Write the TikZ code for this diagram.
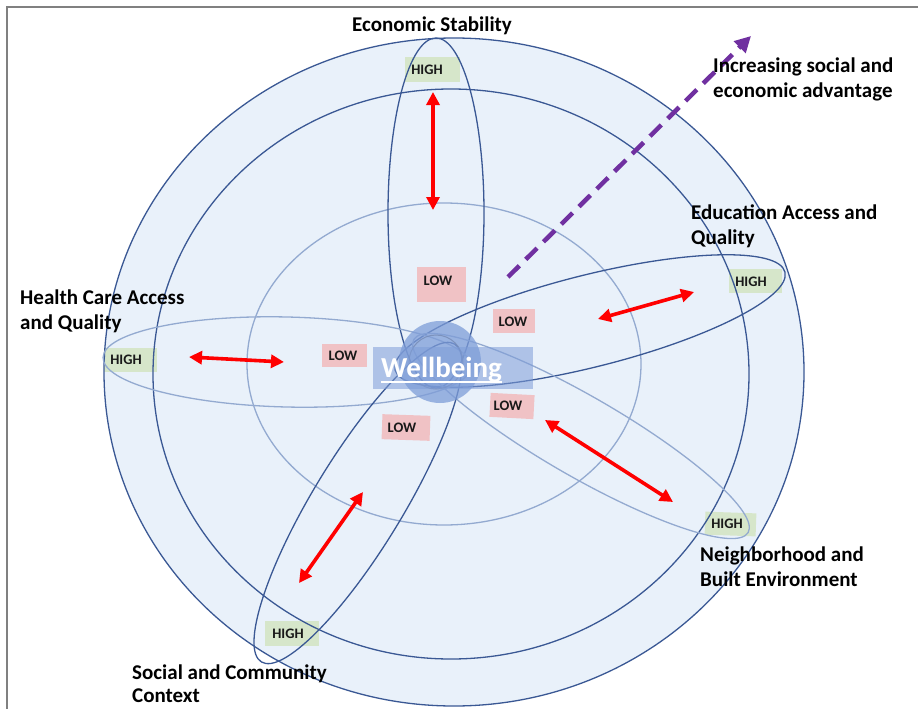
\documentclass[tikz,border=0pt]{standalone}
\usepackage{fontspec}
\setmainfont{Carlito}
\usetikzlibrary{arrows.meta}
\definecolor{bgblue}{HTML}{E9F1FA}
\definecolor{darkline}{HTML}{3A5894}
\definecolor{lightline}{HTML}{93AAD0}
\definecolor{highgreen}{HTML}{D5E5C5}
\definecolor{lowpink}{HTML}{F0C2C5}
\definecolor{advpurple}{HTML}{7030A0}
\definecolor{hubblue}{HTML}{7E9DD8}
\definecolor{framegray}{HTML}{808080}
\begin{document}
\begin{tikzpicture}[x=1pt,y=-1pt,
  ring/.style={draw=darkline, line width=1.3pt},
  lightring/.style={draw=lightline, line width=1.3pt},
  highbox/.style={fill=highgreen, fill opacity=0.9, draw=none, inner sep=0pt},
  lowbox/.style={fill=lowpink, draw=none, inner sep=0pt},
  tag/.style={font=\bfseries\fontsize{14.5}{15}\selectfont, text=black!90, inner sep=0pt},
  lbl/.style={font=\bfseries\fontsize{21}{25}\selectfont, text=black, inner sep=0pt, anchor=base west},
  gradient/.style={draw=red, line width=3.6pt,
    {Triangle[length=13pt,width=13pt]}-{Triangle[length=13pt,width=13pt]}},
  advantage/.style={draw=advpurple, line width=4.5pt, dash pattern=on 16pt off 9pt,
    -{Triangle[length=16pt,width=16pt]}}
]
\useasboundingbox (0,0) rectangle (918,709);

% page frame
\draw[framegray, line width=2pt] (7,709) -- (7,7) -- (918,7);

% outer disc
\fill[bgblue] (454,372) ellipse [x radius=350pt, y radius=334pt];

% HIGH tags (backgrounds)
\node[highbox, minimum width=55pt, minimum height=25pt] (hEcon) at (432.5,69.5) {};
\node[highbox, minimum width=53pt, minimum height=24pt] (hEdu) at (755.5,281) {};
\node[highbox, minimum width=53pt, minimum height=24pt] (hHealth) at (130.5,360) {};
\node[highbox, minimum width=51pt, minimum height=23pt, rotate=-2] (hNeigh) at (730.5,524) {};
\node[highbox, minimum width=54pt, minimum height=25pt] (hSocial) at (292,633.5) {};

% LOW tags (backgrounds)
\node[lowbox, minimum width=49pt, minimum height=35pt] (lEcon) at (441.5,284.5) {};
\node[lowbox, minimum width=42pt, minimum height=24pt] (lEdu) at (514,321) {};
\node[lowbox, minimum width=45pt, minimum height=23pt] (lHealth) at (344.5,355.5) {};
\node[lowbox, minimum width=44pt, minimum height=24pt, rotate=-3] (lNeigh) at (512,406) {};
\node[lowbox, minimum width=48pt, minimum height=25pt, rotate=-2] (lSocial) at (406,427.5) {};

% concentric rings
\draw[ring] (454,372) ellipse [x radius=350pt, y radius=334pt];
\draw[ring] (451,374) ellipse [x radius=298pt, y radius=285pt];
\draw[lightring] (444,364) ellipse [x radius=197pt, y radius=161pt];

% petals
\draw[ring] (436,213) ellipse [x radius=48pt, y radius=175pt];
\draw[ring, rotate around={14.1:(590,321)}] (590,321) ellipse [x radius=201pt, y radius=46pt];
\draw[lightring, rotate around={-1.4:(287,362)}] (287,362) ellipse [x radius=184pt, y radius=45pt];
\draw[lightring, rotate around={-30:(581,436)}] (581,436) ellipse [x radius=193pt, y radius=40pt];
\draw[ring, rotate around={58.7:(358,503)}] (358,503) ellipse [x radius=186pt, y radius=45pt];

% hub
\fill[hubblue, opacity=0.75] (440,362) circle [radius=41pt];
\draw[darkline!70, line width=1pt, opacity=0.8] (436,362) circle [radius=27pt];
\node[fill=hubblue, fill opacity=0.55, minimum width=160pt, minimum height=42pt, inner sep=0pt] (hubBar) at (453,368) {};
\node[font=\bfseries\fontsize{29}{30}\selectfont, text=white, inner sep=0pt, anchor=base] (wb) at (441.5,377) {Wellbeing};
\draw[white, line width=1.8pt] ([yshift=-5pt]wb.base west) -- ([yshift=-5pt]wb.base east);

% tag texts
\node[tag] (hEconT) at (427,69.5) {HIGH};
\node[tag] (hEduT) at (751,282) {HIGH};
\node[tag] (hHealthT) at (126,360) {HIGH};
\node[tag] (hNeighT) at (727,523.5) {HIGH};
\node[tag] (hSocialT) at (288,633.5) {HIGH};
\node[tag] (lEconT) at (438,281) {LOW};
\node[tag] (lEduT) at (513,322) {LOW};
\node[tag] (lHealthT) at (343,356) {LOW};
\node[tag] (lNeighT) at (508,406) {LOW};
\node[tag] (lSocialT) at (402,428) {LOW};

% gradient arrows (low <-> high)
\coordinate (gEconA) at (433,92);   \coordinate (gEconB) at (433,210);
\coordinate (gEduA) at (598,319);   \coordinate (gEduB) at (694,292);
\coordinate (gHealthA) at (189,357);\coordinate (gHealthB) at (284,362);
\coordinate (gNeighA) at (545,420); \coordinate (gNeighB) at (673,502);
\coordinate (gSocialA) at (363,492);\coordinate (gSocialB) at (299,583);
\draw[gradient] (gEconA) -- (gEconB);
\draw[gradient] (gEduA) -- (gEduB);
\draw[gradient] (gHealthA) -- (gHealthB);
\draw[gradient] (gNeighA) -- (gNeighB);
\draw[gradient] (gSocialA) -- (gSocialB);

% advantage direction
\coordinate (advS) at (508,277);
\coordinate (advE) at (751,36);
\draw[advantage] (advS) -- (advE);

% domain labels
\node[lbl, anchor=base] (tEcon) at (432,32) {Economic Stability};
\node[lbl] (tAdv1) at (713,72) {Increasing social and};
\node[lbl] (tAdv2) at (713,97) {economic advantage};
\node[lbl] (tEdu1) at (691,219) {Education Access and};
\node[lbl] (tEdu2) at (691,244) {Quality};
\node[lbl] (tHealth1) at (20,304) {Health Care Access};
\node[lbl] (tHealth2) at (20,329) {and Quality};
\node[lbl] (tNeigh1) at (700,561) {Neighborhood and};
\node[lbl] (tNeigh2) at (700,586) {Built Environment};
\node[lbl] (tSocial1) at (132,679) {Social and Community};
\node[lbl] (tSocial2) at (132,702) {Context};
\end{tikzpicture}
\end{document}
